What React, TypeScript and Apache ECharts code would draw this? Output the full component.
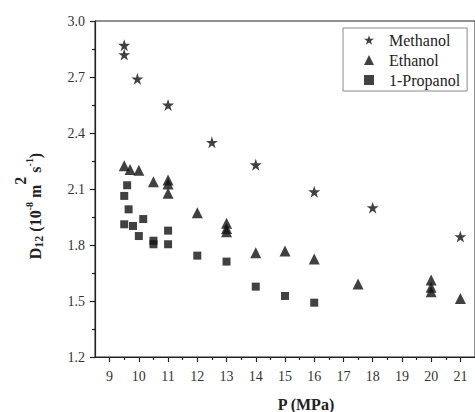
import React, { useEffect, useRef } from 'react';
import * as echarts from 'echarts';

// Methanol
const methanolP = [9.5, 9.5, 9.95, 11, 12.5, 14, 16, 18, 21];
const methanolD = [2.87, 2.82, 2.69, 2.55, 2.35, 2.23, 2.085, 2.0, 1.845];

// Ethanol
const ethanolP = [9.5, 9.7, 10, 10.5, 11, 11, 11, 12, 13, 13, 13, 14, 15, 16, 17.5, 20, 20, 20, 21];
const ethanolD = [2.225, 2.205, 2.2, 2.139, 2.148, 2.127, 2.077, 1.973, 1.916, 1.889, 1.871, 1.759, 1.768, 1.725, 1.591, 1.613, 1.573, 1.55, 1.514];

// 1-Propanol
const propanolP = [9.6, 9.5, 9.65, 9.5, 9.8, 10.15, 10, 10.5, 10.5, 11, 11, 12, 13, 14, 15, 16];
const propanolD = [2.12, 2.063, 1.991, 1.911, 1.902, 1.939, 1.848, 1.823, 1.804, 1.877, 1.804, 1.743, 1.711, 1.577, 1.527, 1.491];

// Ticks
const xTickValues = [9, 10, 11, 12, 13, 14, 15, 16, 17, 18, 19, 20, 21];
const xMinorValues = [9.5, 10.5, 11.5, 12.5, 13.5, 14.5, 15.5, 16.5, 17.5, 18.5, 19.5, 20.5];

const STAR = 'path://M50,0 L61.2,34.5 L97.6,34.5 L68.2,55.9 L79.4,90.5 L50,69.1 L20.6,90.5 L31.8,55.9 L2.4,34.5 L38.8,34.5 Z';
const FONT = 'Liberation Serif, Times New Roman, serif';
const INK = '#111';
const AXIS = '#222';

const pairs = (xs: number[], ys: number[]) => xs.map((x, i) => [x, ys[i]]);

export default function App() {
  const ref = useRef<HTMLDivElement>(null);
  useEffect(() => {
    if (!ref.current) return;
    const chart = echarts.init(ref.current, undefined, { renderer: 'svg' });
    chart.setOption({
      animation: false,
      backgroundColor: '#fff',
      textStyle: { fontFamily: FONT },
      grid: { left: 95, top: 21, right: -6, bottom: 55, show: true, borderColor: AXIS, borderWidth: 1 },
      legend: {
        left: 343,
        top: 28,
        orient: 'vertical',
        itemWidth: 10,
        itemHeight: 10,
        itemGap: 4,
        padding: [4, 7, 3, 21],
        borderColor: '#888',
        borderWidth: 1,
        textStyle: { fontSize: 16, color: '#222', fontFamily: FONT, padding: [0, 0, 0, 10] },
        data: [
          { name: 'Methanol', icon: STAR },
          { name: 'Ethanol', icon: 'triangle' },
          { name: '1-Propanol', icon: 'rect' },
        ],
      },
      xAxis: [
        {
          type: 'value',
          min: 8.5,
          max: 21.5,
          position: 'bottom',
          axisLine: { show: true, onZero: false, lineStyle: { color: AXIS, width: 1.2 } },
          axisTick: { show: true, customValues: xTickValues, length: 5, lineStyle: { color: AXIS, width: 1.2 } },
          axisLabel: { customValues: xTickValues, margin: 12, fontSize: 14, color: '#333', fontFamily: FONT },
          splitLine: { show: false },
        },
        {
          type: 'value',
          min: 8.5,
          max: 21.5,
          position: 'bottom',
          axisLine: { show: false, onZero: false },
          axisTick: { show: true, customValues: xMinorValues, length: 3, lineStyle: { color: AXIS, width: 1.2 } },
          axisLabel: { show: false },
          splitLine: { show: false },
        },
      ],
      yAxis: {
        type: 'value',
        min: 1.2,
        max: 3.0,
        interval: 0.3,
        axisLine: { show: true, onZero: false, lineStyle: { color: AXIS, width: 1.2 } },
        axisTick: { show: true, length: 5, lineStyle: { color: AXIS, width: 1.2 } },
        minorTick: { show: true, splitNumber: 2, length: 3, lineStyle: { color: AXIS, width: 1.2 } },
        axisLabel: { margin: 10, fontSize: 14, color: '#333', fontFamily: FONT, formatter: (v: number) => v.toFixed(1) },
        splitLine: { show: false },
      },
      series: [
        {
          name: 'Methanol',
          type: 'scatter',
          symbol: STAR,
          symbolSize: 12,
          itemStyle: { color: INK },
          data: pairs(methanolP, methanolD),
        },
        {
          name: 'Ethanol',
          type: 'scatter',
          symbol: 'triangle',
          symbolSize: 11,
          itemStyle: { color: INK },
          data: pairs(ethanolP, ethanolD),
        },
        {
          name: '1-Propanol',
          type: 'scatter',
          symbol: 'rect',
          symbolSize: 8,
          itemStyle: { color: INK },
          data: pairs(propanolP, propanolD),
        },
      ],
      graphic: [
        {
          type: 'text',
          x: 306,
          y: 404,
          style: {
            text: 'P (MPa)',
            fontFamily: FONT,
            fontWeight: 'bold',
            fontSize: 16,
            fill: '#222',
            align: 'center',
            verticalAlign: 'middle',
          },
        },
        {
          type: 'text',
          x: 35,
          y: 206,
          rotation: Math.PI / 2,
          style: {
            text: '{b|D}{sub|12}{b| (10}{sup|-8}{b| m}{sup2|2}{b| s}{sup|-1}{b|)}',
            fontFamily: FONT,
            fill: '#222',
            align: 'center',
            verticalAlign: 'middle',
            rich: {
              b: { fontFamily: FONT, fontWeight: 'bold', fontSize: 16, fill: '#222' },
              sub: { fontFamily: FONT, fontWeight: 'bold', fontSize: 12, fill: '#222', padding: [8, 0, 0, 0] },
              sup: { fontFamily: FONT, fontWeight: 'bold', fontSize: 10, fill: '#222', padding: [0, 0, 12, 0] },
              sup2: { fontFamily: FONT, fontWeight: 'bold', fontSize: 16, fill: '#222', padding: [0, 0, 30, 0] },
            },
          },
        },
      ],
    });
    return () => chart.dispose();
  }, []);
  return <div ref={ref} style={{ position: 'absolute', left: 0, top: 0, width: 475, height: 412 }} />;
}
